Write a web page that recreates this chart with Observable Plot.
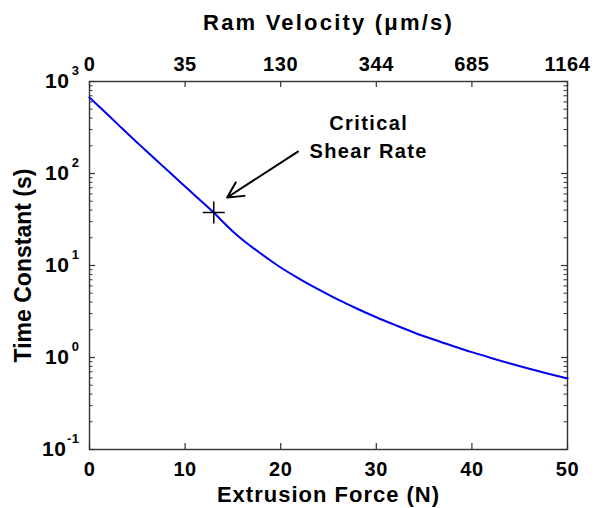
<!DOCTYPE html>
<html>
<head>
<meta charset="utf-8">
<script src="https://cdn.jsdelivr.net/npm/d3@7"></script>
<script src="https://cdn.jsdelivr.net/npm/@observablehq/plot@0.6"></script>
<style>
  html, body { margin: 0; padding: 0; background: #fff; }
  svg text { font-family: "Liberation Sans", Arial, sans-serif; font-weight: bold; fill: #000; }
</style>
</head>
<body>
<div id="chart"></div>
<script>
// Extrusion force (N) vs time constant (s)
const forceN = [0, 1, 2, 3, 4, 5, 6, 7, 8, 9, 10, 11, 12, 13, 14, 15, 16, 17, 18, 19, 20, 22, 24, 26, 28, 30, 32, 34, 36, 38, 40, 42, 44, 46, 48, 50];
const timeConstS = [670, 535, 427, 340, 270, 216, 173, 139, 112, 89.7, 72.3, 58.1, 46.8, 37.7, 29.5, 23.4, 19.05, 15.85, 13.3, 11.2, 9.51, 7.13, 5.46, 4.25, 3.39, 2.74, 2.25, 1.86, 1.567, 1.334, 1.143, 0.989, 0.861, 0.755, 0.667, 0.592];

// axes
const xTicks = [0, 10, 20, 30, 40, 50];
const ramVelocityLabels = ["0", "35", "130", "344", "685", "1164"];
const yMajor = [0.1, 1, 10, 100, 1000];
const yExponents = ["-1", "0", "1", "2", "3"];
const yMinor = [];
for (const dec of [0.1, 1, 10, 100]) for (let m = 2; m <= 9; m++) yMinor.push(m * dec);

// titles
const topTitle = "Ram Velocity (μm/s)";
const xTitle = "Extrusion Force (N)";
const yTitle = "Time Constant (s)";

// critical shear rate annotation
const criticalPoint = [{x: 13, y: 37.7}];
const arrowData = [{x1: 21.8, y1: 173, x2: 14.4, y2: 54.8}];
const annotText = [{x: 29.2, y: 265, text: "Critical\nShear Rate"}];

const W = 595, H = 508;
const mL = 89, mR = 28, mT = 81, mB = 59;
const plotW = W - mL - mR, plotH = H - mT - mB;

const plusSymbol = {
  draw(ctx, size) {
    const r = Math.sqrt(size / Math.PI);
    ctx.moveTo(-r, 0); ctx.lineTo(r, 0);
    ctx.moveTo(0, -r); ctx.lineTo(0, r);
  }
};

const data = forceN.map((f, i) => ({f, t: timeConstS[i]}));
const tickColor = "#333";

const chart = Plot.plot({
  width: W, height: H,
  marginLeft: mL, marginRight: mR, marginTop: mT, marginBottom: mB,
  x: {domain: [0, 50], axis: null},
  y: {type: "log", domain: [0.1, 1000], axis: null},
  marks: [
    Plot.ruleY(yMinor, {y: d => d, insetRight: plotW - 3.5, stroke: tickColor, strokeWidth: 1}),
    Plot.ruleY(yMinor, {y: d => d, insetLeft: plotW - 3.5, stroke: tickColor, strokeWidth: 1}),
    Plot.ruleY(yMajor, {y: d => d, insetRight: plotW - 6, stroke: tickColor, strokeWidth: 1.2}),
    Plot.ruleY(yMajor, {y: d => d, insetLeft: plotW - 6, stroke: tickColor, strokeWidth: 1.2}),
    Plot.ruleX(xTicks, {x: d => d, insetTop: plotH - 6, stroke: tickColor, strokeWidth: 1.2}),
    Plot.ruleX(xTicks, {x: d => d, insetBottom: plotH - 6, stroke: tickColor, strokeWidth: 1.2}),
    Plot.frame({stroke: "#333", strokeWidth: 1.4}),
    Plot.line(data, {x: "f", y: "t", stroke: "#0000ee", strokeWidth: 2, curve: "monotone-x"}),
    Plot.dot(criticalPoint, {x: "x", y: "y", symbol: plusSymbol, r: 11, stroke: "#000", fill: "none", strokeWidth: 1.5}),
    Plot.arrow(arrowData, {x1: "x1", y1: "y1", x2: "x2", y2: "y2", stroke: "#000", strokeWidth: 2, headLength: 13, headAngle: 55}),
    Plot.text(annotText, {x: "x", y: "y", text: "text", fontSize: 20, lineHeight: 1.4}),
    Plot.text(xTicks, {x: d => d, text: d => String(d), frameAnchor: "bottom", lineAnchor: "middle", dy: 20, fontSize: 20}),
    Plot.text(xTicks, {x: d => d, text: (d, i) => ramVelocityLabels[i], frameAnchor: "top", lineAnchor: "middle", dy: -17, fontSize: 20}),
    Plot.text(yMajor.filter(d => d >= 1), {y: d => d, text: () => "10", frameAnchor: "left", textAnchor: "end", dx: -20, fontSize: 21}),
    Plot.text(yMajor.filter(d => d < 1), {y: d => d, text: () => "10", frameAnchor: "left", textAnchor: "end", dx: -23, fontSize: 21}),
    Plot.text(yMajor, {y: d => d, text: (d, i) => yExponents[i], frameAnchor: "left", textAnchor: "end", dx: -10, dy: -11, fontSize: 13}),
    Plot.text([topTitle], {frameAnchor: "top", lineAnchor: "middle", dy: -59, fontSize: 22}),
    Plot.text([xTitle], {frameAnchor: "bottom", lineAnchor: "middle", dy: 45, fontSize: 22}),
    Plot.text([yTitle], {frameAnchor: "left", textAnchor: "middle", lineAnchor: "middle", dx: -66, rotate: -90, fontSize: 23})
  ]
});

// widen horizontal text slightly (reference glyphs are horizontally stretched)
d3.select(chart).selectAll("text").each(function() {
  const t = this.textContent;
  let ls = "0.6px";
  if (t === topTitle) ls = "2.2px";
  else if (t === xTitle) ls = "1px";
  else if (t === yTitle) ls = "0px";
  else if (t.indexOf("Critical") >= 0) ls = "1.4px";
  else if (yExponents.includes(t)) ls = "0.5px";
  this.style.letterSpacing = ls;
});
document.getElementById("chart").appendChild(chart);
</script>
</body>
</html>
